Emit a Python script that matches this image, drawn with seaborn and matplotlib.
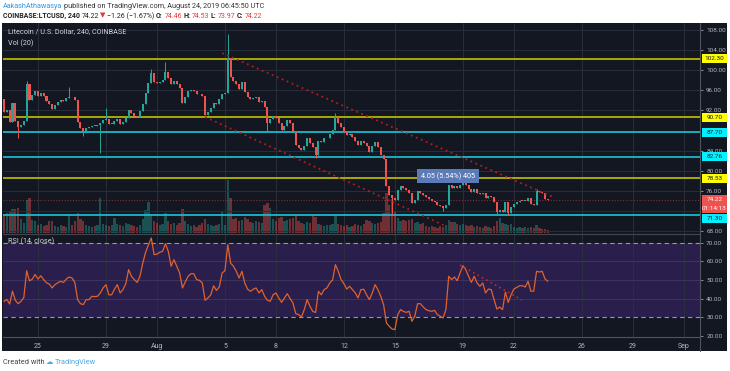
import numpy as np
import pandas as pd
import matplotlib
matplotlib.use("Agg")
import matplotlib.pyplot as plt
from matplotlib.patches import Rectangle
from matplotlib.lines import Line2D
import seaborn as sns

# LTC/USD 4h candles, Jul 23 00:00 -> Aug 24 04:00 UTC
first_open = 94.3
closes = [
    91.6, 92.0, 89.8, 93.4, 90.0, 88.8, 89.2, 90.0, 97.3, 94.0,    # 0-9
    95.0, 95.8, 94.8, 95.5, 94.8, 93.8, 93.2, 92.2, 93.0, 93.6,    # 10-19
    94.0, 93.8, 94.5, 94.7, 94.6, 94.1, 89.8, 88.5, 88.0, 88.6,    # 20-29
    88.7, 89.0, 88.9, 89.2, 89.6, 90.1, 90.4, 89.3, 89.3, 90.0,    # 30-39
    90.4, 89.4, 89.7, 90.6, 92.1, 91.4, 90.9, 90.8, 91.8, 93.3,    # 40-49
    95.5, 97.5, 99.4, 97.6, 97.4, 97.7, 98.0, 99.7, 98.4, 97.3,    # 50-59
    97.9, 97.3, 96.4, 93.4, 94.6, 95.8, 96.0, 95.8, 95.3, 95.2,    # 60-69
    94.8, 91.1, 91.6, 92.4, 93.5, 93.2, 94.2, 95.2, 95.5, 102.4,   # 70-79
    98.7, 97.8, 97.2, 96.2, 97.7, 95.6, 94.6, 94.2, 94.4, 94.6,    # 80-89
    93.6, 93.9, 92.6, 89.5, 90.3, 91.0, 90.6, 89.6, 88.1, 89.0,    # 90-99
    90.1, 89.5, 87.8, 85.1, 84.5, 84.2, 85.0, 86.5, 85.5, 84.8,    # 100-109
    83.2, 86.0, 85.7, 86.5, 86.6, 87.3, 88.1, 90.8, 89.6, 88.8,    # 110-119
    87.8, 87.1, 87.3, 86.8, 86.0, 85.1, 85.9, 85.6, 85.0, 83.8,    # 120-129
    84.9, 85.8, 84.8, 83.2, 82.3, 76.9, 75.2, 74.6, 74.2, 76.2,    # 130-139
    76.9, 76.6, 76.2, 75.6, 73.6, 74.2, 75.9, 75.6, 75.2, 74.8,    # 140-149
    74.4, 74.0, 73.9, 73.3, 73.0, 72.6, 73.3, 77.2, 76.6, 76.9,    # 150-159
    76.6, 77.1, 77.8, 77.2, 76.4, 75.8, 76.3, 75.6, 75.4, 75.6,    # 160-169
    74.5, 74.9, 74.8, 73.8, 71.9, 72.3, 71.8, 73.9, 71.6, 72.8,    # 170-179
    73.5, 73.8, 74.1, 74.0, 74.1, 74.6, 73.5, 73.3, 75.9, 75.8,    # 180-189
    75.6, 74.46, 74.22,                                            # 190-192
]
# notable wicks (candle index -> price)
wick_highs = {8: 97.8, 23: 96.7, 36: 92.5, 52: 100.2, 57: 101.7, 79: 107.2,
              117: 91.4, 162: 78.2, 188: 76.3}
wick_lows = {5: 86.5, 28: 87.0, 34: 83.5, 93: 87.8, 110: 82.6, 137: 71.2,
             155: 72.0, 174: 71.3, 178: 71.2}
volume = [
    18, 20, 22, 24, 24, 25, 14, 10, 33, 35,   # 0-9
    13, 12, 8, 9, 7, 8, 12, 12, 7, 6,         # 10-19
    8, 7, 6, 18, 8, 12, 20, 14, 12, 8,        # 20-29
    7, 6, 7, 8, 35, 9, 8, 7, 8, 15,           # 30-39
    9, 8, 7, 10, 9, 8, 7, 6, 8, 14,           # 40-49
    23, 31, 18, 12, 10, 8, 9, 20, 12, 9,      # 50-59
    10, 8, 10, 24, 12, 9, 7, 8, 6, 8,         # 60-69
    10, 14, 9, 8, 7, 8, 9, 21, 8, 53,         # 70-79
    35, 14, 15, 12, 13, 16, 14, 11, 10, 12,   # 80-89
    11, 10, 28, 30, 25, 14, 12, 15, 16, 12,   # 90-99
    13, 14, 15, 18, 12, 10, 9, 11, 10, 18,    # 100-109
    16, 9, 8, 7, 8, 8, 9, 18, 9, 8,           # 110-119
    7, 8, 6, 7, 9, 8, 7, 9, 13, 12,           # 120-129
    10, 9, 10, 11, 20, 40, 28, 34, 22, 15,    # 130-139
    12, 13, 12, 13, 14, 10, 11, 9, 10, 7,     # 140-149
    6, 7, 6, 5, 7, 6, 8, 13, 11, 11,          # 150-159
    9, 8, 9, 8, 7, 8, 6, 7, 6, 5,             # 160-169
    7, 6, 5, 7, 12, 15, 10, 9, 8, 9,          # 170-179
    6, 5, 6, 5, 6, 5, 6, 5, 8, 5,             # 180-189
    4, 4, 3,                                  # 190-192
]
rsi = [
    38.5, 39.5, 37.0, 44.0, 39.0, 37.2, 38.5, 40.5, 55.0, 49.5,   # 0-9
    50.5, 53.0, 50.5, 52.3, 50.2, 48.5, 47.8, 45.7, 47.5, 48.5,   # 10-19
    49.3, 48.7, 50.5, 51.6, 51.1, 48.7, 39.4, 37.2, 36.7, 39.4,   # 20-29
    39.4, 41.2, 41.0, 41.2, 43.0, 45.7, 47.5, 42.0, 42.0, 45.0,   # 30-39
    47.5, 43.0, 44.8, 48.0, 55.6, 52.0, 50.2, 48.7, 52.0, 59.2,   # 40-49
    65.0, 69.0, 72.7, 63.7, 64.0, 65.0, 65.5, 69.6, 65.5, 57.4,   # 50-59
    61.0, 57.4, 53.8, 45.7, 49.0, 52.0, 53.4, 53.4, 50.2, 49.8,   # 60-69
    48.4, 39.0, 40.3, 42.0, 46.9, 44.4, 46.2, 53.8, 55.0, 69.1,   # 70-79
    59.2, 57.4, 54.7, 51.1, 54.7, 48.4, 45.0, 43.9, 45.0, 45.7,   # 80-89
    43.0, 44.8, 41.2, 39.0, 38.5, 42.0, 43.0, 40.3, 37.9, 40.3,   # 90-99
    42.6, 40.0, 37.6, 31.8, 31.3, 30.0, 34.0, 39.4, 35.8, 33.0,   # 100-109
    32.5, 43.9, 42.0, 44.8, 45.7, 48.4, 50.0, 58.3, 54.7, 50.2,   # 110-119
    48.0, 45.1, 46.6, 44.8, 43.0, 40.3, 44.8, 45.0, 42.0, 39.4,   # 120-129
    43.0, 47.5, 44.8, 41.2, 36.7, 26.8, 25.0, 23.5, 23.2, 31.3,   # 130-139
    34.0, 33.0, 32.5, 33.1, 27.7, 30.4, 37.2, 37.2, 35.4, 34.0,   # 140-149
    33.4, 33.1, 33.6, 31.3, 30.4, 29.5, 34.0, 52.0, 50.2, 51.6,   # 150-159
    49.6, 53.8, 57.7, 55.6, 52.0, 48.7, 52.0, 48.4, 46.6, 48.4,   # 160-169
    43.0, 45.1, 44.8, 39.4, 34.3, 35.4, 34.0, 43.5, 37.9, 42.0,   # 170-179
    45.1, 46.0, 46.9, 46.9, 46.2, 49.3, 43.9, 44.0, 54.7, 54.3,   # 180-189
    54.7, 50.5, 49.3,                                             # 190-192
]

# date axis: label -> days after Jul 23
date_labels = ["25", "29", "Aug", "5", "8", "12", "15", "19", "22", "26", "29", "Sep"]
date_days = [2, 6, 9, 13, 16, 20, 23, 27, 30, 34, 37, 40]
bars_per_day = 6

yellow_levels = [102.30, 90.70, 78.53]
cyan_levels = [87.70, 82.76, 71.30]
last_price = 74.22
countdown = "01:14:13"
grid_prices = [68, 72, 76, 80, 84, 88, 92, 96, 100, 104, 108]
price_ticks = [68, 76, 80, 84, 92, 96, 100, 104, 108]   # 72 / 88 sit under the level tags
rsi_ticks = [20, 30, 40, 50, 60, 70]

# trend channel drawings (bar index, price)
upper_channel = ([77.0, 193.8], [103.4, 74.8])
lower_channel = ([71.0, 156.4], [90.7, 68.9])
rsi_trend = ([161.0, 182.8], [58.1, 39.2])
measure_pos = (156.7, 78.97)
measure_text = "4.05 (5.54%) 405"

# colours
BG = "#131722"
GRID = "#2a2e3a"
UP = "#26a69a"
DOWN = "#ef5350"
AXTXT = "#b2b5be"
YEL_LINE = "#b5b500"
CYA_LINE = "#19b9c9"

assert len(closes) == len(volume) == len(rsi)

opens = [first_open] + closes[:-1]
df = pd.DataFrame({"open": opens, "close": closes, "vol": volume, "rsi": rsi})
df["bar"] = np.arange(len(df))
df["body_lo"] = df[["open", "close"]].min(axis=1)
df["high"] = df[["open", "close"]].max(axis=1)
df["low"] = df["body_lo"]
for k, v in wick_highs.items():
    df.loc[k, "high"] = v
for k, v in wick_lows.items():
    df.loc[k, "low"] = v
df["up"] = df["close"] >= df["open"]
df["color"] = np.where(df["up"], UP, DOWN)

sns.set_theme(style="dark")
plt.rcParams["font.family"] = ["Roboto", "DejaVu Sans"]

W, H = 730, 371
fig = plt.figure(figsize=(W / 100, H / 100), dpi=100)
fig.patch.set_facecolor("white")


def fx(x):
    return x / W


def fy(y):
    return 1 - y / H


# dark chart area behind everything
panel = fig.add_axes([fx(2), fy(351), (727 - 2) / W, (351 - 23) / H], zorder=-5)
panel.set_facecolor(BG)
panel.set_xticks([])
panel.set_yticks([])
for s in panel.spines.values():
    s.set_visible(False)

xlim = (-0.35, 245.7)
price_rect = [fx(3), fy(233), 697 / W, 210 / H]
ax_vol = fig.add_axes(price_rect)
ax = fig.add_axes(price_rect)
ax_rsi = fig.add_axes([fx(3), fy(337), 697 / W, 104 / H])

date_x = [d * bars_per_day for d in date_days]

# volume
ax_vol.set_facecolor(BG)
ax_vol.bar(df["bar"], df["vol"], width=0.8, color=df["color"], alpha=0.42, linewidth=0)
ax_vol.set_ylim(0, 210)
ax_vol.set_xlim(*xlim)
ax_vol.set_xticks(date_x)
ax_vol.set_yticks([])
ax_vol.tick_params(labelbottom=False, length=0)
ax_vol.grid(True, axis="x", color=GRID, linewidth=0.7)
for s in ax_vol.spines.values():
    s.set_visible(False)

# price candles
ax.set_facecolor("none")
ax.set_xlim(*xlim)
ax.set_ylim(67.64, 109.39)
for t in grid_prices:
    ax.axhline(t, color=GRID, linewidth=0.7, zorder=0)
ax.vlines(df["bar"], df["low"], df["high"], colors=df["color"], linewidth=0.7, zorder=3)
body = (df["close"] - df["open"]).abs().clip(lower=0.12)
ax.bar(df["bar"], body, bottom=df["body_lo"], width=0.72, color=df["color"],
       linewidth=0, zorder=4)

for lv in yellow_levels:
    ax.axhline(lv, color=YEL_LINE, linewidth=1.3, zorder=2)
for lv in cyan_levels:
    ax.axhline(lv, color=CYA_LINE, linewidth=1.3, zorder=2)
ax.axhline(last_price, color=DOWN, linewidth=0.8, linestyle=(0, (1, 1.5)), alpha=0.45, zorder=2)

ax.plot(*upper_channel, color="#b71c1c", linewidth=1.3, linestyle=(0, (1, 2)), zorder=5)
ax.plot(*lower_channel, color="#b71c1c", linewidth=1.3, linestyle=(0, (1, 2)), zorder=5)

ax.text(*measure_pos, measure_text, color="white", fontsize=5.2, ha="center", va="center",
        zorder=8, bbox=dict(boxstyle="square,pad=0.5", fc="#5a7bb8", ec="none"))

ax.yaxis.tick_right()
ax.set_yticks(price_ticks)
ax.set_yticklabels([f"{t:.2f}" for t in price_ticks])
ax.set_xticks([])
ax.tick_params(axis="y", labelsize=4.6, colors=AXTXT, length=2.5, width=0.5, pad=2)
for s in ax.spines.values():
    s.set_visible(False)

# right-axis price tags
yt = ax.get_yaxis_transform()
px_per_unit = 210 / (109.39 - 67.64)
lab_h = 9 / px_per_unit


def price_label(val, text, fc, tc, shift_px=0):
    y = val - shift_px / px_per_unit
    ax.add_patch(Rectangle((1 + 2 / 697, y - lab_h / 2), 25 / 697, lab_h, transform=yt,
                           fc=fc, ec="none", clip_on=False, zorder=9))
    ax.text(1 + 14.5 / 697, y, text, transform=yt, color=tc, fontsize=4.6,
            ha="center", va="center", clip_on=False, zorder=10)


for lv in yellow_levels:
    price_label(lv, f"{lv:.2f}", "#ffff00", "#131722")
for lv in cyan_levels[:2]:
    price_label(lv, f"{lv:.2f}", "#00f0ff", "#131722")
price_label(cyan_levels[2], f"{cyan_levels[2]:.2f}", "#00f0ff", "#131722", shift_px=4)
price_label(last_price, f"{last_price:.2f}", DOWN, "white")
price_label(last_price, countdown, DOWN, "white", shift_px=9)

# RSI pane
ax_rsi.set_facecolor(BG)
ax_rsi.set_xlim(*xlim)
ax_rsi.set_ylim(19.2, 75.4)
ax_rsi.axhspan(30, 70, color="#2a1e4c", zorder=0, linewidth=0)
for t in (40, 50, 60):
    ax_rsi.axhline(t, color="#3d3560", linewidth=0.7, zorder=1)
for t in (30, 70):
    ax_rsi.axhline(t, color="#9598a1", linewidth=0.8, linestyle=(0, (4, 3)), zorder=2)
ax_rsi.set_xticks(date_x)
ax_rsi.set_xticklabels(date_labels)
ax_rsi.grid(True, axis="x", color=GRID, linewidth=0.7)
ax_rsi.set_axisbelow(True)
sns.lineplot(x=df["bar"], y=df["rsi"], ax=ax_rsi, color="#e0622d", linewidth=0.9, zorder=4)
ax_rsi.plot(*rsi_trend, color="#c62828", linewidth=1.2, linestyle=(0, (1, 2)), zorder=5)
ax_rsi.set_xlabel("")
ax_rsi.set_ylabel("")
ax_rsi.yaxis.tick_right()
ax_rsi.set_yticks(rsi_ticks)
ax_rsi.set_yticklabels([f"{t:.2f}" for t in rsi_ticks])
ax_rsi.tick_params(axis="y", labelsize=4.6, colors=AXTXT, length=2.5, width=0.5, pad=2)
ax_rsi.tick_params(axis="x", labelsize=5, colors=AXTXT, length=0, pad=4)
for s in ax_rsi.spines.values():
    s.set_visible(False)

# separators and axis border
fig.add_artist(Line2D([fx(3), fx(700)], [fy(233.5), fy(233.5)], color="#434651", lw=0.8))
fig.add_artist(Line2D([fx(3), fx(700)], [fy(337), fy(337)], color="#50535e", lw=0.8))
fig.add_artist(Line2D([fx(700), fx(700)], [fy(23), fy(351)], color="#50535e", lw=0.8))

# pane legends
fig.text(fx(8), fy(32), "Litecoin / U.S. Dollar, 240, COINBASE", color="#d1d4dc", fontsize=5.2, va="center")
fig.text(fx(8), fy(43), "Vol (20)", color="#d1d4dc", fontsize=5.2, va="center")
fig.text(fx(8), fy(241), "RSI (14, close)", color="#d1d4dc", fontsize=5.2, va="center")

# header / footer: runs of coloured text placed one after another
renderer = fig.canvas.get_renderer()


def text_run(x0, y0, parts, size=5.3):
    x = x0
    for txt, col, wt in parts:
        t = fig.text(fx(x), fy(y0), txt, color=col, fontsize=size, va="center", fontweight=wt)
        x = t.get_window_extent(renderer).x1 + 1.5


text_run(3, 7, [("AakashAthawasya", "#2f95e8", "normal"),
                ("published on TradingView.com, August 24, 2019 06:45:50 UTC", "#333333", "normal")],
         size=5.2)
text_run(3, 16, [("COINBASE:LTCUSD, 240", "#222222", "bold"),
                 ("74.22", "#222222", "normal"),
                 ("\u25bc", "#e53935", "normal"),
                 ("\u22121.26 (\u22121.67%)", "#222222", "normal"),
                 ("O:", "#222222", "bold"), ("74.46", "#e53935", "normal"),
                 ("H:", "#222222", "bold"), ("74.53", "#e53935", "normal"),
                 ("L:", "#222222", "bold"), ("73.97", "#e53935", "normal"),
                 ("C:", "#222222", "bold"), ("74.22", "#e53935", "normal")], size=5.0)
text_run(3, 362, [("Created with", "#444444", "normal"),
                  ("\u2601", "#4aa8e8", "normal"),
                  ("TradingView", "#4aa8e8", "normal")], size=5.3)

fig.savefig("out.png", dpi=100)
